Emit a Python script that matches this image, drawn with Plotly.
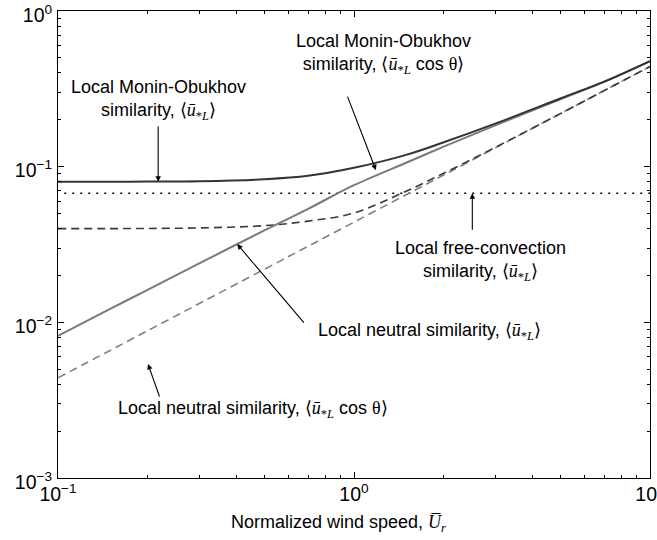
import plotly.graph_objects as go
import math

# ---- data (log-log) ----
wind_speed = [0.1, 0.15, 0.2, 0.3, 0.5, 0.7, 1.0, 1.5, 2.0, 3.0, 5.0, 7.0, 10.0]

mo_ustar = [0.080, 0.0801, 0.0802, 0.0807, 0.083, 0.0873, 0.0983, 0.119, 0.143, 0.189, 0.275, 0.352, 0.477]
mo_ustar_cos = [0.040, 0.0400, 0.0401, 0.0404, 0.0418, 0.0447, 0.0504, 0.0695, 0.0903, 0.133, 0.220, 0.308, 0.440]
neutral_ustar = [0.0082, 0.0122, 0.0161, 0.0239, 0.0391, 0.0536, 0.076, 0.106, 0.134, 0.184, 0.272, 0.351, 0.477]
neutral_ustar_cos = [0.0044, 0.0066, 0.0088, 0.0132, 0.022, 0.0308, 0.044, 0.066, 0.088, 0.132, 0.220, 0.308, 0.440]
free_conv_x = [0.105, 10.0]
free_conv_ustar = [0.0675, 0.0675]

x_major = [0.1, 1, 10]
x_major_text = ["10<sup>−1</sup>", "10<sup>0</sup>", "10<sup>1</sup>"]
y_major = [0.001, 0.01, 0.1, 1]
y_major_text = ["10<sup>−3</sup>", "10<sup>−2</sup>", "10<sup>−1</sup>", "10<sup>0</sup>"]

x_minor = [m * 10 ** k for k in (-1, 0) for m in range(2, 10)]
y_minor = [m * 10 ** k for k in (-3, -2, -1) for m in range(2, 10)]

SERIF = "Liberation Serif"
def sym(s):
    return f'<span style="font-family:{SERIF}">{s}</span>'

U = sym("⟨<i>ū</i><sub>*<i>L</i></sub>⟩")
UC = sym("⟨<i>ū</i><sub>*<i>L</i></sub>") + " cos " + sym("θ⟩")

fig = go.Figure()
fig.add_trace(go.Scatter(x=free_conv_x, y=free_conv_ustar, mode="lines",
                         line=dict(color="black", width=1.5, dash="2px,6px")))
fig.add_trace(go.Scatter(x=wind_speed, y=neutral_ustar_cos, mode="lines", line_shape="spline",
                         line=dict(color="#808080", width=1.6, dash="8px,5px")))
fig.add_trace(go.Scatter(x=wind_speed, y=mo_ustar_cos, mode="lines", line_shape="spline",
                         line=dict(color="#3a3a3a", width=1.6, dash="8px,5px")))
fig.add_trace(go.Scatter(x=wind_speed, y=neutral_ustar, mode="lines", line_shape="spline",
                         line=dict(color="#7a7a7a", width=2)))
fig.add_trace(go.Scatter(x=wind_speed, y=mo_ustar, mode="lines", line_shape="spline",
                         line=dict(color="#333333", width=2)))

FW, FH = 657, 540
ML, MR, MT, MB = 58, 7, 11, 62
X0, X1, Y0, Y1 = ML, FW - MR, MT, FH - MB

def px(xp):
    return (xp - X0) / (X1 - X0)

def py(yp):
    return (Y1 - yp) / (Y1 - Y0)

font = dict(family="Liberation Sans", size=18, color="black")

texts = [
    ("Local Monin-Obukhov<br>similarity, " + U, 158, 100, "center"),
    ("Local Monin-Obukhov<br>similarity, " + UC, 383, 54, "center"),
    ("Local free-convection<br>similarity, " + U, 480, 261, "center"),
    ("Local neutral similarity, " + U, 316, 331, "left"),
    ("Local neutral similarity, " + UC, 253, 409, "center"),
]
for t, xp, yp, anc in texts:
    fig.add_annotation(text=t, xref="paper", yref="paper", x=px(xp), y=py(yp),
                       showarrow=False, font=font, align="center",
                       xanchor=anc, yanchor="middle")

# x-axis title
fig.add_annotation(text="Normalized wind speed, " + sym("<i>U̅<sub>r</sub></i>"),
                   xref="paper", yref="paper", x=px(338), y=py(523),
                   showarrow=False, font=font, xanchor="center", yanchor="middle")

# arrows: tip (data coords), tail offset in px
arrows = [
    (0.218, 0.0801, 0, -57),
    (1.186, 0.095, -29, -75),
    (2.51, 0.0675, 0, 38),
    (0.403, 0.0318, 68, 80),
    (0.2014, 0.0054, 12, 34),
]
for xa, ya, ax, ay in arrows:
    fig.add_annotation(x=math.log10(xa), y=math.log10(ya), xref="x", yref="y",
                       text="", showarrow=True, ax=ax, ay=ay, arrowhead=2,
                       arrowsize=1, arrowwidth=1.1, arrowcolor="black", standoff=0)

axis_common = dict(type="log", showgrid=False, zeroline=False, showline=True,
                   linecolor="black", linewidth=1, mirror="ticks", ticks="inside",
                   ticklen=6, tickcolor="black", tickwidth=1, automargin=False,
                   ticklabeloverflow="allow",
                   tickfont=dict(family="Liberation Sans", size=19.5, color="black"))

fig.update_xaxes(**axis_common, range=[-1, 1], tickmode="array", tickvals=x_major,
                 ticktext=x_major_text, ticklabelstandoff=-1,
                 minor=dict(tickmode="array", tickvals=x_minor, ticks="inside",
                            ticklen=3, tickcolor="black", showgrid=False))
fig.update_yaxes(**axis_common, range=[-3, 0], tickmode="array", tickvals=y_major,
                 ticktext=y_major_text, ticklabelstandoff=1, ticklabelshift=4,
                 minor=dict(tickmode="array", tickvals=y_minor, ticks="inside",
                            ticklen=3, tickcolor="black", showgrid=False))

fig.update_layout(width=FW, height=FH, margin=dict(l=ML, r=MR, t=MT, b=MB),
                  paper_bgcolor="white", plot_bgcolor="white", showlegend=False)

fig.write_html("out.html", config={"displayModeBar": False},
               post_script="document.body.style.margin='0px';")
